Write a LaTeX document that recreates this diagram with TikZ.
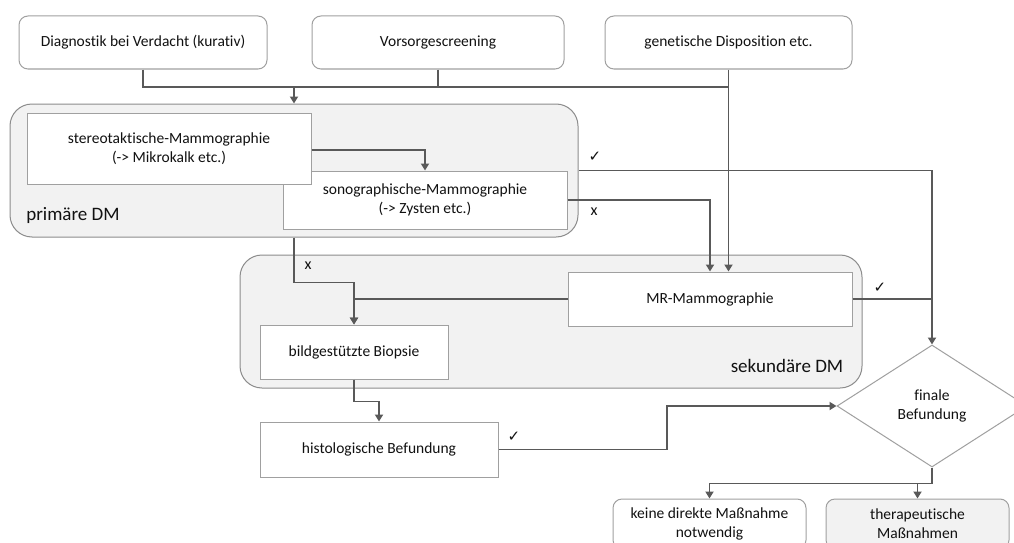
\documentclass[tikz,border=0pt]{standalone}
\usepackage{fontspec}
\setmainfont{Carlito}[RawFeature=-liga]
\newfontfamily\symfont{DejaVu Sans}
\usetikzlibrary{shapes.geometric,arrows.meta}
\definecolor{boxline}{HTML}{A0A0A0}
\definecolor{grpline}{HTML}{8C8C8C}
\definecolor{grpfill}{HTML}{F2F2F2}
\definecolor{conncol}{HTML}{595959}
\definecolor{txt}{HTML}{111111}
\tikzset{
  base/.style={draw=boxline, line width=1pt, text=txt, inner sep=0pt, align=center, font=\fontsize{15.5}{19}\selectfont},
  rbox/.style={base, rounded corners=9pt, fill=white},
  sbox/.style={base, fill=white},
  gbox/.style={base, rounded corners=9pt, fill=grpfill},
  grp/.style={draw=grpline, line width=1pt, fill=grpfill, rounded corners=22pt, inner sep=0pt},
  dia/.style={base, diamond, fill=white},
  conn/.style={draw=conncol, line width=1.8pt},
  arr/.style={conn, -{Triangle[width=8pt,length=7pt]}},
  lbl/.style={text=txt, inner sep=0pt, font=\fontsize{16}{19}\selectfont},
  chk/.style={text=txt, inner sep=0pt, font=\symfont\fontsize{15}{17}\selectfont},
  glbl/.style={text=txt, inner sep=0pt, font=\fontsize{19}{22}\selectfont}
}
\begin{document}
\begin{tikzpicture}[x=1pt,y=-1pt]
\useasboundingbox (0,0) rectangle (1014,543);
\clip (0,0) rectangle (1014,543);
\fill[white] (0,0) rectangle (1014,543);
% top boxes
\node[rbox, minimum width=248pt, minimum height=53pt] (b1) at (143,42.5) {Diagnostik bei Verdacht (kurativ)};
\node[rbox, minimum width=252pt, minimum height=53pt] (b2) at (438,42.5) {Vorsorgescreening};
\node[rbox, minimum width=247pt, minimum height=53pt] (b3) at (728.5,42.5) {genetische Disposition etc.};
% groups
\node[grp, minimum width=568pt, minimum height=133pt] (prim) at (294,170.5) {};
\node[grp, minimum width=622pt, minimum height=133pt] (sek) at (551,321.5) {};
\node[glbl] (primlbl) at (73,215) {primäre DM};
\node[glbl] (seklbl) at (787,366) {sekundäre DM};
% inner boxes
\node[sbox, minimum width=284pt, minimum height=58pt] (sono) at (425,200) {sonographische-Mammographie\\(-> Zysten etc.)};
\node[sbox, minimum width=284pt, minimum height=71pt] (stereo) at (169,148.5) {stereotaktische-Mammographie\\(-> Mikrokalk etc.)};
\node[sbox, minimum width=284pt, minimum height=54pt] (mr) at (710,299) {MR-Mammographie};
\node[sbox, minimum width=188pt, minimum height=54pt] (bio) at (354,352) {bildgestützte Biopsie};
\node[sbox, minimum width=238pt, minimum height=55pt] (histo) at (379,449.5) {histologische Befundung};
\node[dia, minimum width=190pt, minimum height=122pt] (fin) at (932,406) {finale\\Befundung};
\node[rbox, minimum width=193pt, minimum height=50pt] (keine) at (709.5,524) {keine direkte Maßnahme\\notwendig};
\node[gbox, minimum width=183pt, minimum height=50pt] (ther) at (917.5,524) {therapeutische\\Maßnahmen};
% junction coordinates
\coordinate (j1) at (294,87);
\coordinate (j2) at (667,449.5);
% top connectors
\draw[conn] (b1.south) |- (j1);
\draw[conn] (b2.south) |- (j1);
\draw[conn] (j1) -- (b3.south |- j1);
\draw[arr] (j1) -- (prim.north);
\draw[arr] (b3.south) -- (b3.south |- mr.north);
% primary
\draw[arr] (stereo.east |- 0,150) -| (sono.north);
\draw[arr] (prim.east |- sono.north) -| (fin.north);
\draw[arr] (sono.east) -| (mr.north);
\draw[arr] (prim.south) -- ++(0,45) -| (bio.north);
% secondary
\draw[arr] (mr.west) -| (bio.north);
\draw[conn] (mr.east) -- (mr.east -| fin.north);
\draw[arr] (bio.south) -- ++(0,22) -| (histo.north);
\draw[arr] (histo.east) -- (j2) |- (fin.west);
\draw[arr] (fin.south) -- ++(0,16) -| (keine.north);
\draw[arr] (fin.south) -- ++(0,16) -| (ther.north);
% labels
\node[chk] (c1) at (595,157) {✓};
\node[lbl] (x1) at (594,212) {x};
\node[lbl] (x2) at (308,266) {x};
\node[chk] (c2) at (880,288) {✓};
\node[chk] (c3) at (514,437) {✓};
\end{tikzpicture}
\end{document}
